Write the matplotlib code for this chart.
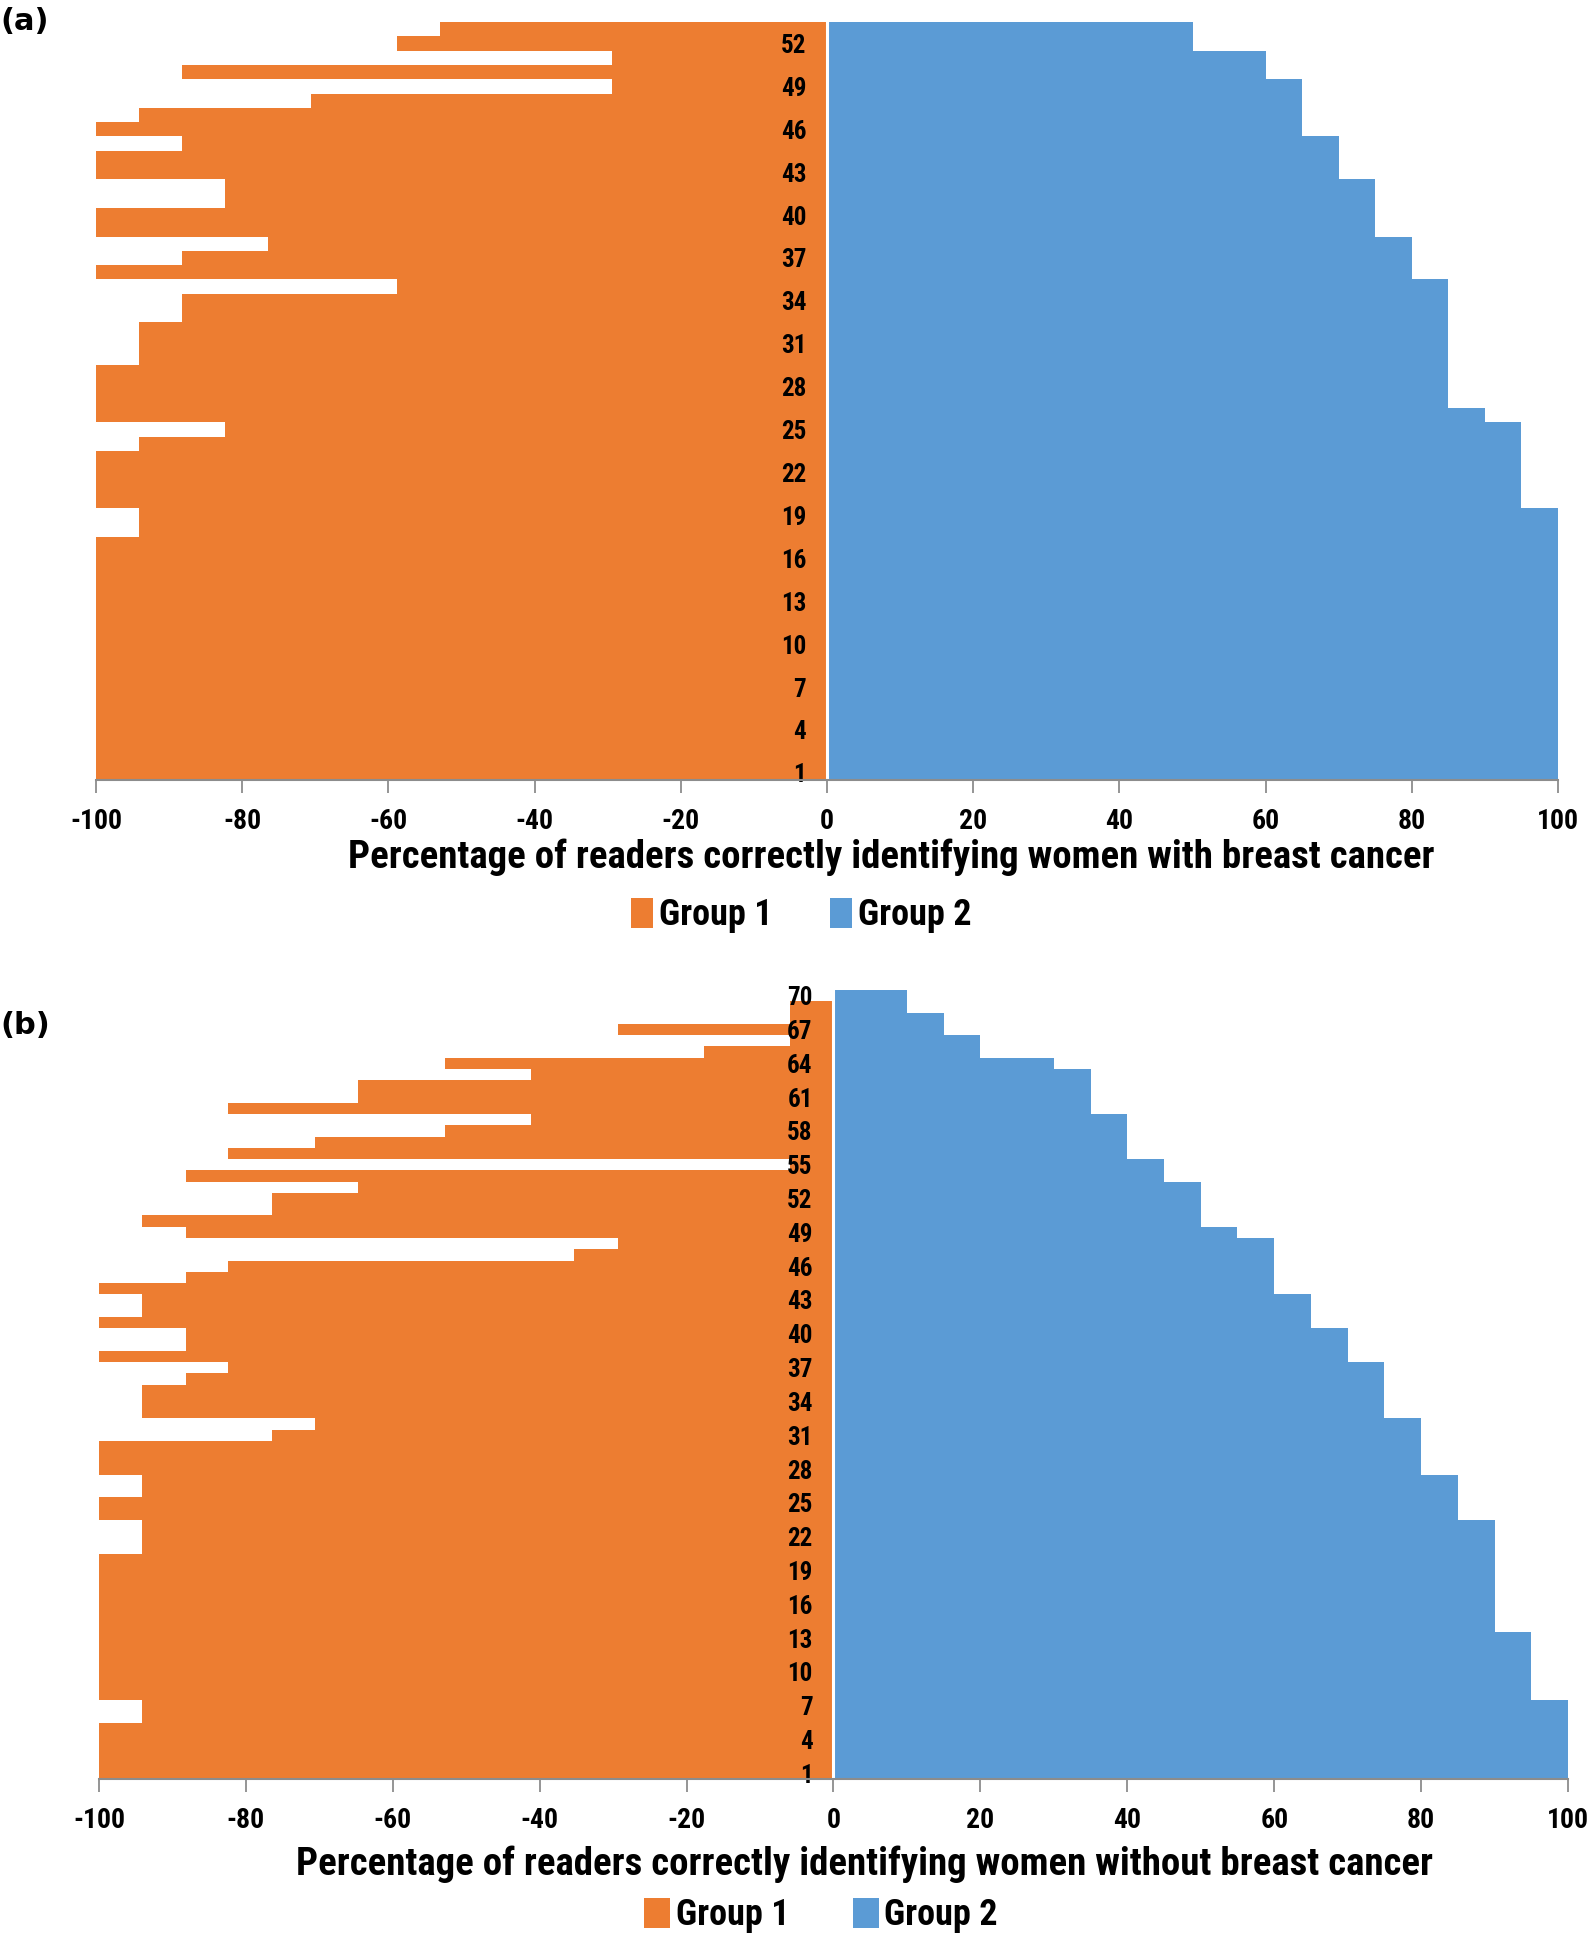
import matplotlib
matplotlib.use("Agg")
import matplotlib.pyplot as plt
from matplotlib.patches import Patch

plt.rcParams['font.family'] = ['Roboto Condensed', 'DejaVu Sans Condensed',
                               'Liberation Sans Narrow', 'Roboto', 'DejaVu Sans']
plt.rcParams['axes.unicode_minus'] = False

# ---------------- data ----------------
cases_a = list(range(1, 54))
group1_a = [-100, -100, -100, -100, -100, -100, -100, -100, -100, -100,
            -100, -100, -100, -100, -100, -100, -100, -94.1, -94.1, -100,
            -100, -100, -100, -94.1, -82.4, -100, -100, -100, -100, -94.1,
            -94.1, -94.1, -88.2, -88.2, -58.8, -100, -88.2, -76.5, -100, -100,
            -82.4, -82.4, -100, -100, -88.2, -100, -94.1, -70.6, -29.4, -88.2,
            -29.4, -58.8, -52.9]
group2_a = [100, 100, 100, 100, 100, 100, 100, 100, 100, 100,
            100, 100, 100, 100, 100, 100, 100, 100, 100, 95,
            95, 95, 95, 95, 95, 90, 85, 85, 85, 85,
            85, 85, 85, 85, 85, 80, 80, 80, 75, 75,
            75, 75, 70, 70, 70, 65, 65, 65, 65, 60,
            60, 50, 50]

cases_b = list(range(1, 71))
group1_b = [-100, -100, -100, -100, -100, -94.1, -94.1, -100, -100, -100,
            -100, -100, -100, -100, -100, -100, -100, -100, -100, -100,
            -94.1, -94.1, -94.1, -100, -100, -94.1, -94.1, -100, -100, -100,
            -76.5, -70.6, -94.1, -94.1, -94.1, -88.2, -82.4, -100, -88.2, -88.2,
            -100, -94.1, -94.1, -100, -88.2, -82.4, -35.3, -29.4, -88.2, -94.1,
            -76.5, -76.5, -64.7, -88.2, -5.9, -82.4, -70.6, -52.9, -41.2, -82.4,
            -64.7, -64.7, -41.2, -52.9, -17.6, -5.9, -29.4, -5.9, -5.9, 0]
group2_b = [100, 100, 100, 100, 100, 100, 100, 95, 95, 95,
            95, 95, 95, 90, 90, 90, 90, 90, 90, 90,
            90, 90, 90, 85, 85, 85, 85, 80, 80, 80,
            80, 80, 75, 75, 75, 75, 75, 70, 70, 70,
            65, 65, 65, 60, 60, 60, 60, 60, 55, 50,
            50, 50, 50, 45, 45, 40, 40, 40, 40, 35,
            35, 35, 35, 30, 20, 20, 15, 15, 10, 10]

xticks = [-100, -80, -60, -40, -20, 0, 20, 40, 60, 80, 100]
xticklabels = ["-100", "-80", "-60", "-40", "-20", "0", "20", "40", "60", "80", "100"]
yticks_a = [1, 4, 7, 10, 13, 16, 19, 22, 25, 28, 31, 34, 37, 40, 43, 46, 49, 52]
yticks_b = [1, 4, 7, 10, 13, 16, 19, 22, 25, 28, 31, 34, 37, 40, 43, 46, 49, 52,
            55, 58, 61, 64, 67, 70]
series_names = ["Group 1", "Group 2"]
xlabel_a = "Percentage of readers correctly identifying women with breast cancer"
xlabel_b = "Percentage of readers correctly identifying women without breast cancer"

ORANGE = "#ED7D31"
BLUE = "#5B9BD5"
AXIS_GRAY = "#8C8C8C"

W, H = 1594, 1936
fig = plt.figure(figsize=(W / 100, H / 100), dpi=100)


def panel(rect, cases, g1, g2, yticks, xlabel, n, legend_xy, xlabel_xy, colsp, hh, tag, tag_y):
    ax = fig.add_axes(rect)
    ax.barh(cases, g1, height=1.0, color=ORANGE, linewidth=0, zorder=1)
    ax.barh(cases, g2, height=1.0, color=BLUE, linewidth=0, zorder=1)
    ax.axvline(0, color="white", lw=2.2, zorder=1.3)
    ax.set_xlim(-100, 100)
    ax.set_ylim(0.5, n + 0.5)
    for s in ["top", "right"]:
        ax.spines[s].set_visible(False)
    ax.spines["left"].set_position(("data", 0))
    ax.spines["left"].set_visible(False)
    ax.spines["bottom"].set_color(AXIS_GRAY)
    ax.spines["bottom"].set_linewidth(1.5)
    ax.spines["bottom"].set_zorder(3)
    ax.set_xticks(xticks)
    ax.set_xticklabels(xticklabels, fontsize=20, fontweight="bold")
    ax.tick_params(axis="x", direction="out", length=9, width=1.3, color=AXIS_GRAY, pad=11)
    ax.set_yticks(yticks)
    ax.set_yticklabels([str(v) for v in yticks], fontsize=18, fontweight="bold")
    ax.tick_params(axis="y", length=0, pad=15)
    ax.set_facecolor("white")
    fig.text(xlabel_xy[0], xlabel_xy[1], xlabel, ha="center", va="center",
             fontsize=28, fontweight="bold")
    handles = [Patch(facecolor=ORANGE, edgecolor="none"),
               Patch(facecolor=BLUE, edgecolor="none")]
    fig.legend(handles, series_names, loc="center", bbox_to_anchor=legend_xy,
               ncol=2, frameon=False, prop={"weight": "bold", "size": 26},
               handlelength=hh, handleheight=0.9, handletextpad=0.15, columnspacing=colsp)
    fig.text(0.0, tag_y, tag, ha="left", va="center", fontsize=22, fontweight="bold",
             family="DejaVu Sans")
    return ax


panel([96 / W, 1 - 780 / H, (1558 - 96) / W, (780 - 22) / H],
      cases_a, group1_a, group2_a, yticks_a, xlabel_a, 53,
      (801 / W, 1 - 915 / H), (891 / W, 1 - 857 / H), 1.6, 0.62, "(a)", 1 - 21 / H)
panel([99 / W, 1 - 1779 / H, (1568 - 99) / W, (1779 - 990) / H],
      cases_b, group1_b, group2_b, yticks_b, xlabel_b, 70,
      (821 / W, 1 - 1915 / H), (864 / W, 1 - 1864 / H), 1.75, 0.72, "(b)", 1 - 1025 / H)

fig.savefig("out.png", dpi=100, facecolor="white")
